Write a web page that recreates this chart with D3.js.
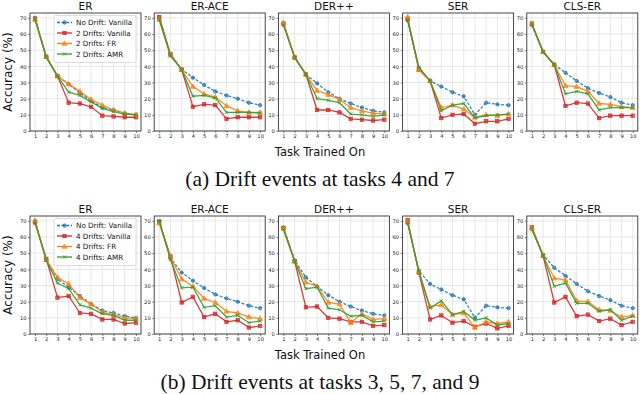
<!DOCTYPE html>
<html lang="en">
<head>
<meta charset="utf-8">
<title>drift</title>
<style>
  body { margin: 0; background: #fff; }
  svg { display: block; }
</style>
</head>
<body>
<svg width="640" height="394"></svg>
<script src="https://d3js.org/d3.v7.min.js"></script>
<script>

var tasks = [1, 2, 3, 4, 5, 6, 7, 8, 9, 10];
var methods = ["ER", "ER-ACE", "DER++", "SER", "CLS-ER"];
var yTicks = [0, 10, 20, 30, 40, 50, 60, 70];

// one row per method, same order as methods
var noDrift = [
  [70, 46, 34, 29, 23.5, 18.5, 14.5, 13, 11, 10],
  [69.5, 47, 38, 33, 28.5, 24.5, 22, 20, 17.5, 16],
  [66, 45.5, 35, 29.5, 24, 20, 17, 14.5, 12.5, 11.5],
  [68.5, 39, 31, 27.5, 24, 21.5, 10, 17.5, 16.5, 16],
  [65.5, 49, 41, 36, 31, 26.5, 23.5, 21, 17.5, 16]
];

// (a) drifts at tasks 4 and 7
var twoVanilla = [
  [69.5, 46, 34, 17.5, 17, 15, 9.5, 9, 8.5, 8.5],
  [70.5, 47.5, 38, 15, 16.5, 16, 7.5, 8.5, 8.5, 8.5],
  [66.5, 45.5, 35, 13, 13, 11.5, 7.5, 7, 6.5, 7],
  [69.5, 38, 31, 8, 10, 10.5, 4.5, 6, 6, 7.5],
  [66.5, 49, 41, 15.5, 17.5, 17, 8, 9.5, 9.5, 9.5]
];
var twoFR = [
  [69, 46, 34, 29, 24.5, 19.5, 16, 13, 11, 10],
  [69, 47, 38, 27.5, 23, 21, 15.5, 12.5, 11.5, 11.5],
  [67, 45.5, 35, 25, 22.5, 19.5, 14.5, 12.5, 11, 10.5],
  [70.5, 38, 31, 14.5, 16, 13.5, 8.5, 10, 9.5, 10.5],
  [66.5, 49, 41, 28, 27.5, 24.5, 17, 16.5, 15, 14.5]
];
var twoAMR = [
  [69, 45.5, 34, 24, 22, 18, 14, 12, 10.5, 10],
  [69, 46.5, 38, 21.5, 22, 20.5, 11.5, 11.5, 11.5, 11],
  [65.5, 45.5, 35, 20, 19, 17.5, 10.5, 10, 9, 10],
  [68.5, 39.5, 31, 12.5, 16, 17, 8, 9.5, 10, 10.5],
  [66, 49, 41, 23, 24.5, 23, 13, 14.5, 14.5, 14.5]
];

// (b) drifts at tasks 3, 5, 7 and 9
var fourVanilla = [
  [69, 46.5, 22.5, 23.5, 13, 12.5, 9, 9, 6.5, 7],
  [69.5, 48, 19.5, 23, 10.5, 12.5, 7.5, 8.5, 4, 5],
  [65.5, 45, 16.5, 17, 10, 9.5, 7.5, 7.5, 5, 5.5],
  [70.5, 38, 9, 11.5, 7, 8, 4.5, 6.5, 3.5, 5],
  [66, 48.5, 19.5, 23, 11, 12, 8, 9.5, 5.5, 7.5]
];
var fourFR = [
  [70, 46, 35, 31, 22.5, 18.5, 13.5, 12, 10, 9.5],
  [68.5, 47.5, 34, 29.5, 22, 19.5, 14, 13, 10.5, 9.5],
  [65.5, 45, 32, 29.5, 19.5, 18.5, 7, 12.5, 9, 9.5],
  [69.5, 38.5, 17, 18, 12, 13, 4, 7.5, 6.5, 7.5],
  [65.5, 48.5, 34.5, 33.5, 20.5, 20, 15, 14.5, 10.5, 11.5]
];
var fourAMR = [
  [69, 45.5, 31.5, 28, 18, 16, 12.5, 11.5, 8.5, 8.5],
  [70, 46, 28.5, 29, 16.5, 17.5, 10.5, 11.5, 7, 8],
  [64.5, 45, 28, 29, 16, 15, 11, 11.5, 7.5, 8],
  [69, 39, 16, 20.5, 12, 14, 8.5, 10, 5.5, 6.5],
  [64.5, 48.5, 29.5, 31.5, 19, 19, 14, 15, 8.5, 11]
];

var rows = [
  {top: 13, n: "2", data: [noDrift, twoVanilla, twoFR, twoAMR], caption: "(a) Drift events at tasks 4 and 7"},
  {top: 216, n: "4", data: [noDrift, fourVanilla, fourFR, fourAMR], caption: "(b) Drift events at tasks 3, 5, 7, and 9"}
];

var styles = [
  {name: "No Drift: Vanilla", color: "#1f77b4", dash: "3,1.6", marker: "circle"},
  {name: "Drifts: Vanilla", color: "#d62728", dash: null, marker: "square"},
  {name: "Drifts: FR", color: "#ff7f0e", dash: null, marker: "triangle"},
  {name: "Drifts: AMR", color: "#2ca02c", dash: null, marker: "cross"}
];

var svg = d3.select("svg"),
    pw = 111, ph = 118, gap = 124.2, left0 = 30;
var font = "DejaVu Sans, sans-serif";

function drawMarker(g, type, color, cx, cy) {
  if (type == "circle") {
    g.append("circle").attr("cx", cx).attr("cy", cy).attr("r", 1.7)
      .attr("fill", color).attr("fill-opacity", 0.7).attr("stroke", color).attr("stroke-width", 0.7);
  } else if (type == "square") {
    g.append("rect").attr("x", cx - 1.7).attr("y", cy - 1.7).attr("width", 3.4).attr("height", 3.4)
      .attr("fill", color).attr("fill-opacity", 0.7).attr("stroke", color).attr("stroke-width", 0.7);
  } else if (type == "triangle") {
    g.append("path").attr("d", d3.symbol(d3.symbolTriangle, 11)()).attr("transform", "translate(" + cx + "," + (cy + 0.3) + ")")
      .attr("fill", color).attr("fill-opacity", 0.7).attr("stroke", color).attr("stroke-width", 0.7);
  } else {
    g.append("path").attr("d", "M-1.6,-1.6L1.6,1.6M-1.6,1.6L1.6,-1.6").attr("transform", "translate(" + cx + "," + cy + ")")
      .attr("stroke", color).attr("stroke-width", 0.9).attr("fill", "none");
  }
}

rows.forEach(function(row) {
  methods.forEach(function(m, i) {
    var left = left0 + i * gap;
    var x = d3.scaleLinear().domain([0.55, 10.45]).range([left, left + pw]);
    var y = d3.scaleLinear().domain([0, 73]).range([row.top + ph, row.top]);
    var g = svg.append("g");

    // grid
    g.selectAll(null).data(tasks).enter().append("line")
      .attr("x1", function(d) { return x(d); }).attr("x2", function(d) { return x(d); })
      .attr("y1", row.top).attr("y2", row.top + ph)
      .attr("stroke", "#dcdcdc").attr("stroke-width", 0.7);
    g.selectAll(null).data(yTicks).enter().append("line")
      .attr("y1", function(d) { return y(d); }).attr("y2", function(d) { return y(d); })
      .attr("x1", left).attr("x2", left + pw)
      .attr("stroke", "#dcdcdc").attr("stroke-width", 0.7);

    // axes
    var ax = g.append("g").attr("transform", "translate(0," + (row.top + ph) + ")")
      .call(d3.axisBottom(x).tickValues(tasks).tickSize(2).tickPadding(1.5));
    var ay = g.append("g").attr("transform", "translate(" + left + ",0)")
      .call(d3.axisLeft(y).tickValues(yTicks).tickSize(2).tickPadding(1.5));
    [ax, ay].forEach(function(a) {
      a.select(".domain").remove();
      a.selectAll(".tick line").attr("stroke", "#333").attr("stroke-width", 0.6);
      a.selectAll("text").attr("font-family", font).attr("font-size", 5.2).attr("fill", "#222");
    });

    // lines
    var line = d3.line().x(function(d, j) { return x(tasks[j]); }).y(function(d) { return y(d); });
    row.data.forEach(function(series, s) {
      var st = styles[s], vals = series[i];
      g.append("path").datum(vals).attr("d", line)
        .attr("fill", "none").attr("stroke", st.color).attr("stroke-width", 1.3)
        .attr("stroke-dasharray", st.dash).attr("stroke-opacity", 0.9);
      vals.forEach(function(v, j) { drawMarker(g, st.marker, st.color, x(tasks[j]), y(v)); });
    });

    // frame
    g.append("rect").attr("x", left).attr("y", row.top).attr("width", pw).attr("height", ph)
      .attr("fill", "none").attr("stroke", "#333").attr("stroke-width", 0.9);

    g.append("text").attr("x", left + pw / 2).attr("y", row.top - 3.5)
      .attr("text-anchor", "middle").attr("font-family", font).attr("font-size", 10.5)
      .attr("fill", "#111").text(m);

    // legend in first panel
    if (i == 0) {
      var lg = svg.append("g").attr("transform", "translate(" + (left + 24) + "," + (row.top + 2.5) + ")");
      lg.append("rect").attr("width", 82).attr("height", 47).attr("rx", 1.5)
        .attr("fill", "#fff").attr("fill-opacity", 0.85).attr("stroke", "#ccc").attr("stroke-width", 0.7);
      styles.forEach(function(st, s) {
        var ly = 7 + s * 10.5;
        lg.append("line").attr("x1", 3).attr("x2", 18).attr("y1", ly).attr("y2", ly)
          .attr("stroke", st.color).attr("stroke-width", 1.3).attr("stroke-dasharray", st.dash);
        drawMarker(lg, st.marker, st.color, 10.5, ly);
        lg.append("text").attr("x", 22).attr("y", ly + 2.5)
          .attr("font-family", font).attr("font-size", 7.2).attr("fill", "#111")
          .text(s == 0 ? st.name : row.n + " " + st.name);
      });
    }
  });

  svg.append("text").attr("transform", "translate(12," + (row.top + ph / 2) + ") rotate(-90)")
    .attr("text-anchor", "middle").attr("font-family", font).attr("font-size", 12)
    .attr("fill", "#111").text("Accuracy (%)");
  svg.append("text").attr("x", 320).attr("y", row.top + ph + 25)
    .attr("text-anchor", "middle").attr("font-family", font).attr("font-size", 11.5)
    .attr("fill", "#111").text("Task Trained On");
  svg.append("text").attr("x", 320).attr("y", row.top + ph + 55)
    .attr("text-anchor", "middle").attr("font-family", "Liberation Serif, Times New Roman, serif")
    .attr("font-size", 21.5).attr("fill", "#111").text(row.caption);
});

</script>
</body>
</html>
